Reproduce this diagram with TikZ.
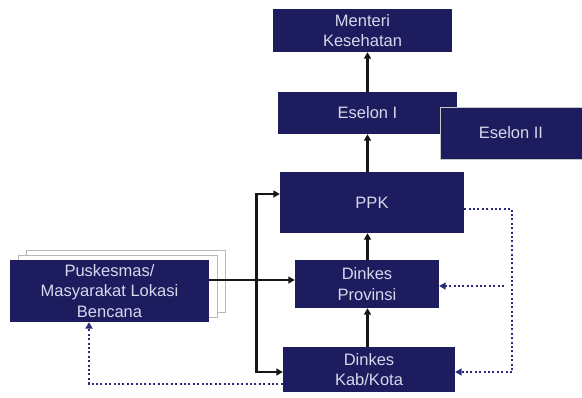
\documentclass[tikz,border=0pt]{standalone}
\usepackage{fontspec}
\setmainfont{Liberation Sans}
\usetikzlibrary{arrows.meta}
\definecolor{navy}{HTML}{1C1C5E}
\definecolor{boxtext}{HTML}{D8D8EC}
\definecolor{dotblue}{HTML}{2A2A7C}
\definecolor{linegray}{HTML}{161616}
\tikzset{
  box/.style={rectangle, fill=navy, text=boxtext, align=center, inner sep=0pt,
    font=\fontsize{16.5}{20.5}\selectfont},
  sheet/.style={rectangle, fill=white, draw=gray!55, line width=0.8pt, inner sep=0pt},
  flow/.style={draw=linegray, line width=2.4pt, -{Triangle[length=6.5pt,width=7pt]}},
  plainflow/.style={draw=linegray, line width=2.4pt},
  feedback/.style={draw=dotblue, line width=2pt, dash pattern=on 2pt off 2.4pt},
  feedarrow/.style={feedback, -{Triangle[length=6.5pt,width=7pt,fill=dotblue]}}
}
\begin{document}
\begin{tikzpicture}[x=1pt,y=-1pt]
\useasboundingbox (0,0) rectangle (582,397);

% stacked sheets behind the Puskesmas box
\node[sheet, minimum width=199pt, minimum height=62pt] (sheetb) at (125.5,281) {};
\node[sheet, minimum width=199pt, minimum height=62pt] (sheeta) at (117.5,286) {};

% hierarchy boxes
\node[box, minimum width=179pt, minimum height=43pt] (menteri) at (362.5,30.5) {Menteri\\Kesehatan};
\node[box, minimum width=179pt, minimum height=42pt] (eselon1) at (367.5,113) {Eselon I};
\node[box, draw=gray!45, line width=0.6pt, minimum width=142pt, minimum height=52pt] (eselon2) at (511,133) {Eselon II};
\node[box, minimum width=184pt, minimum height=61pt] (ppk) at (372,202.5) {PPK};
\node[box, minimum width=144pt, minimum height=48pt] (prov) at (367,284) {Dinkes\\Provinsi};
\node[box, minimum width=172pt, minimum height=45pt] (kab) at (369,369.5) {Dinkes\\Kab/Kota};
\node[box, minimum width=199pt, minimum height=62pt] (pusk) at (109.5,291) {Puskesmas/\\Masyarakat Lokasi\\Bencana};

% reporting line up the hierarchy
\coordinate (spine) at (367.5,0);
\draw[flow] (kab.north -| spine) -- (prov.south -| spine);
\draw[flow] (prov.north -| spine) -- (ppk.south -| spine);
\draw[flow] (ppk.north -| spine) -- (eselon1.south -| spine);
\draw[flow] (eselon1.north -| spine) -- (menteri.south -| spine);

% distribution bus from the Puskesmas
\coordinate (bus) at (256.5,280);
\coordinate (bustop) at (256.5,194);
\coordinate (busbot) at (256.5,372);
\draw[plainflow, line cap=rect] (bustop) -- (busbot);
\draw[flow] (pusk.east |- bus) -- (prov.west |- bus);
\draw[flow] (bustop) -- (ppk.west |- bustop);
\draw[flow] (busbot) -- (kab.west |- busbot);

% feedback loops
\coordinate (fbtop) at (512,209);
\coordinate (fbmid) at (504,286);
\coordinate (fbbot) at (512,372);
\draw[feedback] (ppk.east |- fbtop) -- (fbtop) -- (fbbot);
\draw[feedarrow] (fbmid) -- (prov.east |- fbmid);
\draw[feedarrow] (fbbot) -- (kab.east |- fbbot);
\coordinate (fbleft) at (89,384);
\draw[feedarrow] (kab.west |- fbleft) -- (fbleft) -- (fbleft |- pusk.south);
\end{tikzpicture}
\end{document}
